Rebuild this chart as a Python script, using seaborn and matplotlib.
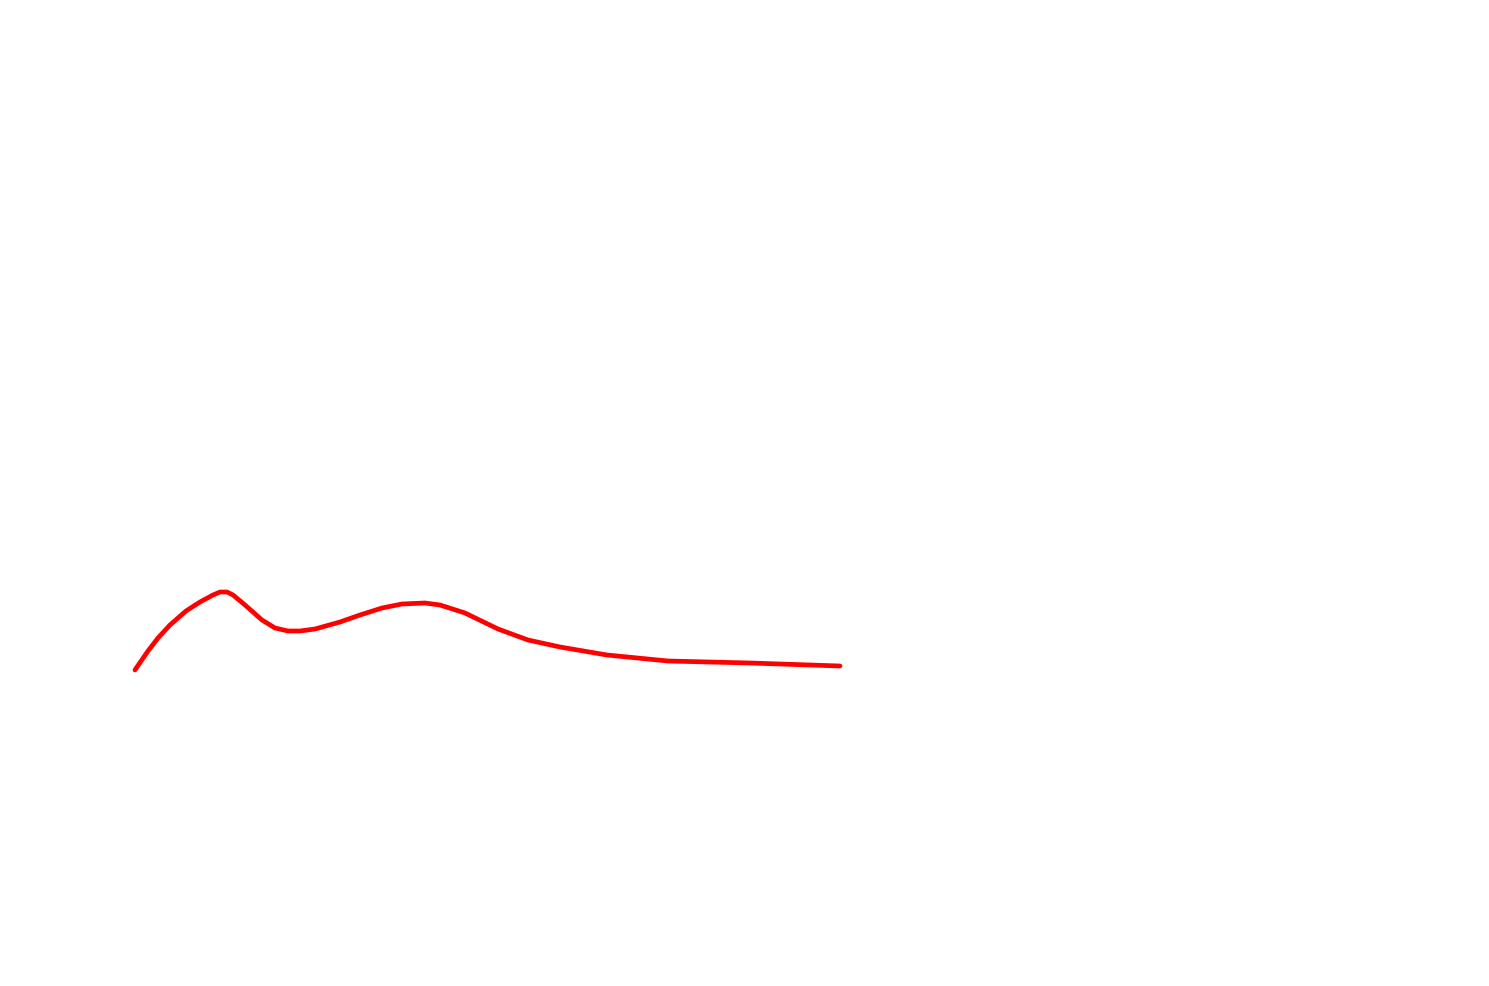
import matplotlib
matplotlib.use("Agg")
from matplotlib import pyplot as plt
import seaborn as sns
import pandas as pd

# values (no visible axes, so a 0..1489 / 0..987 frame)
x_vals = [135, 137, 148, 158, 170, 186, 200, 213, 220, 227, 233, 245, 262, 275,
          288, 300, 315, 340, 360, 382, 402, 425, 440, 465, 498, 528, 560, 607,
          668, 750, 840]
y_vals = [671, 668, 652, 639, 626, 612, 603, 596, 593, 593, 596, 606, 621, 629,
          632, 632, 630, 623, 616, 609, 605, 604, 606, 614, 630, 641, 648, 656,
          662, 664, 667]


def main():
    df = pd.DataFrame({"x": x_vals, "y": y_vals})

    sns.set_style("white")
    fig = plt.figure(figsize=(14.89, 9.87), dpi=100)
    ax = fig.add_axes([0, 0, 1, 1])
    sns.lineplot(data=df, x="x", y="y", sort=False, color="#ff0000",
                 linewidth=3.4, solid_capstyle="round",
                 solid_joinstyle="round", ax=ax)
    ax.set_xlim(0, 1489)
    ax.set_ylim(987, 0)
    ax.axis("off")
    fig.savefig("out.png", dpi=100)


if __name__ == "__main__":
    main()
